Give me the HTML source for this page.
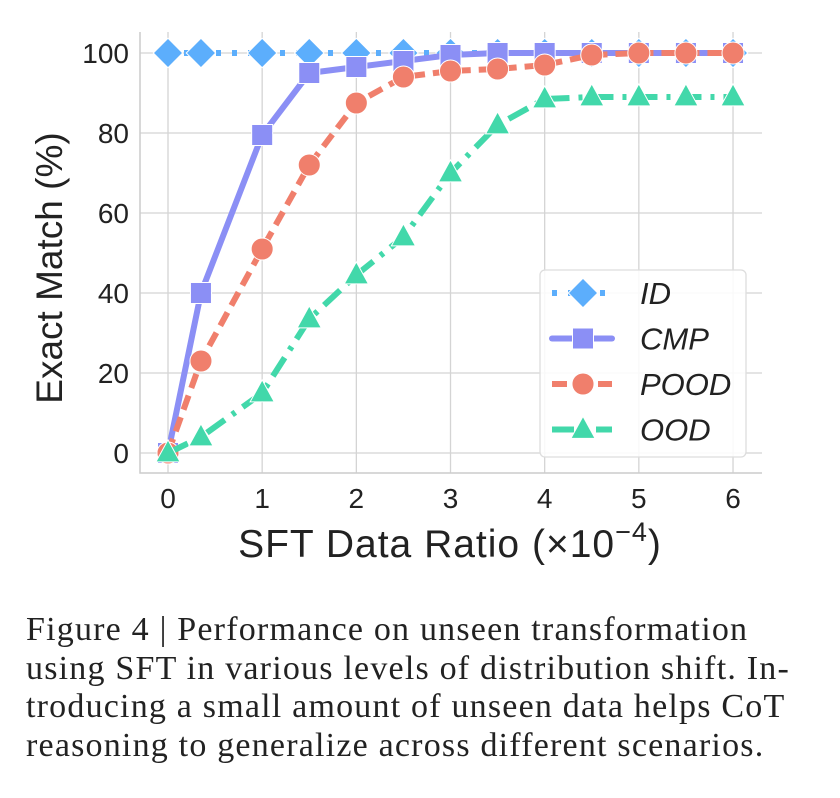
<!DOCTYPE html>
<html><head><meta charset="utf-8"><style>
body{margin:0;background:#fff;width:840px;height:798px;overflow:hidden}
svg text{font-family:"Liberation Sans","DejaVu Sans",sans-serif}
.cap{position:absolute;left:26px;top:611px;font-family:"Liberation Serif",serif;font-size:34px;letter-spacing:1.2px;line-height:38.5px;color:#222;width:820px;white-space:nowrap}
</style></head><body>
<svg id="chart" width="840" height="600" style="position:absolute;left:0;top:0">
<g id="grid"></g><g id="axes"></g><g id="series"></g><g id="legend"></g>
</svg>
<div class="cap">Figure 4 | Performance on unseen transformation<br>using SFT in various levels of distribution shift. In-<br>troducing a small amount of unseen data helps CoT<br>reasoning to generalize across different scenarios.</div>
<script>
const xs=[0,0.35,1,1.5,2,2.5,3,3.5,4,4.5,5,5.5,6];
const idVals=[100,100,100,100,100,100,100,100,100,100,100,100,100];
const cmpVals=[0,40,79.5,95,96.5,98,99.5,100,100,100,100,100,100];
const poodVals=[0,23,51,72,87.5,94,95.5,96,97,99.5,100,100,100];
const oodVals=[0,4,15,33.5,44.5,54,70,82,88.5,89,89,89,89];
const xTicks=[0,1,2,3,4,5,6];
const yTicks=[0,20,40,60,80,100];
const seriesNames=["ID","CMP","POOD","OOD"];
const NS="http://www.w3.org/2000/svg";
const X=v=>168+v*94.17, Y=v=>453-v*4;
function mk(t,a,p){const e=document.createElementNS(NS,t);for(const k in a)e.setAttribute(k,a[k]);p.appendChild(e);return e;}
const grid=document.getElementById('grid'),axes=document.getElementById('axes'),ser=document.getElementById('series'),leg=document.getElementById('legend');
xTicks.forEach(t=>{
 const l=mk('line',{x1:X(t),x2:X(t),y1:32,y2:473,stroke:'#d4d4d4','stroke-width':1.3},grid);
 
 
 const tx=mk('text',{x:X(t),y:508,'font-size':28,'text-anchor':'middle',fill:'#222'},axes);tx.textContent=t;
 
 
});
yTicks.forEach(t=>{
 const l=mk('line',{x1:140,x2:762,y1:Y(t),y2:Y(t),stroke:'#d4d4d4','stroke-width':1.3},grid);
 
 
 const tx=mk('text',{x:129,y:Y(t)+10,'font-size':28,'text-anchor':'end',fill:'#222'},axes);tx.textContent=t;
 
 
});
const sp=mk('path',{d:'M140 32 V473 H762',fill:'none',stroke:'#ccc','stroke-width':1.5},axes);


const xt=mk('text',{x:450,y:557,'font-size':39,'letter-spacing':1,'text-anchor':'middle',fill:'#222'},axes);
xt.innerHTML='SFT Data Ratio (×10<tspan dy="-16" font-size="27">−4</tspan><tspan dy="16">)</tspan>';


const yt=mk('text',{x:0,y:0,'font-size':37,'text-anchor':'middle',fill:'#222',transform:'translate(62,268) rotate(-90)'},axes);
yt.textContent='Exact Match (%)';


const colors=['#5caefc','#8b8ff5','#f07f6c','#42d8aa'];
const dashes=['5 11','','15 8','22 9 4 9'];
const shapes=['d','s','o','^'];
function marker(shape,cx,cy,c,p,sz){
 let e;
 if(shape==='d')e=mk('polygon',{points:`${cx},${cy-sz*1.4} ${cx+sz*1.4},${cy} ${cx},${cy+sz*1.4} ${cx-sz*1.4},${cy}`},p);
 else if(shape==='s')e=mk('rect',{x:cx-sz,y:cy-sz,width:sz*2,height:sz*2},p);
 else if(shape==='o')e=mk('circle',{cx:cx,cy:cy,r:sz*1.05},p);
 else e=mk('polygon',{points:`${cx},${cy-sz*1.25} ${cx+sz*1.15},${cy+sz*0.85} ${cx-sz*1.15},${cy+sz*0.85}`},p);
 e.setAttribute('fill',c);e.setAttribute('stroke','#fff');e.setAttribute('stroke-width',1);
 return e;
}
[idVals,cmpVals,poodVals,oodVals].forEach((vals,i)=>{
 const g=mk('g',{},ser);
 
 
 const d=vals.map((v,j)=>(j?'L':'M')+X(xs[j])+' '+Y(v)).join(' ');
 const ln=mk('path',{d:d,fill:'none',stroke:colors[i],'stroke-width':6,'stroke-dasharray':dashes[i],'stroke-linecap':i===1?'round':'butt','stroke-linejoin':'round'},g);
 
 
 vals.forEach((v,j)=>{
  const m=marker(shapes[i],X(xs[j]),Y(v),colors[i],g,10.5);
  
  
 });
});
const box=mk('rect',{x:540,y:270,width:206,height:187,rx:5,fill:'rgba(255,255,255,0.85)',stroke:'#ddd','stroke-width':1.3},leg);


seriesNames.forEach((n,i)=>{
 const y=293+i*45.5;
 const g=mk('g',{},leg);
 
 
 mk('line',{x1:552,x2:612,y1:y,y2:y,stroke:colors[i],'stroke-width':6,'stroke-dasharray':dashes[i],'stroke-linecap':i===1?'round':'butt'},g);
 marker(shapes[i],583,y,colors[i],g,10.5);
 const t=mk('text',{x:640,y:y+11,'font-size':31,'font-style':'italic',fill:'#222'},g);t.textContent=n;
});
</script>
</body></html>
